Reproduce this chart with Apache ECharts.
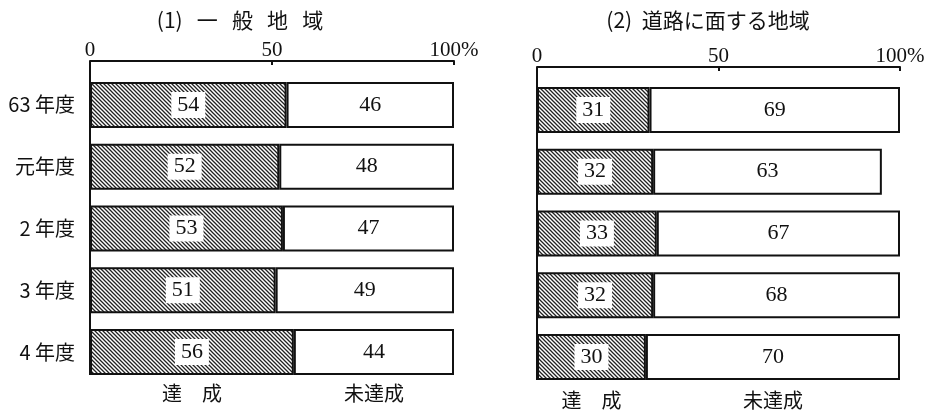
<!DOCTYPE html>
<html>
<head>
<meta charset="utf-8">
<script src="https://cdn.jsdelivr.net/npm/echarts@6/dist/echarts.min.js"></script>
<style>
  html, body { margin: 0; padding: 0; background: #fff; }
  #chart { width: 936px; height: 413px; }
</style>
</head>
<body>
<div id="chart"></div>
<script>
// Fiscal years (rows, top to bottom)
const categories = ['63 年度', '元年度', '2 年度', '3 年度', '4 年度'];
// (1) 一般地域: achieved / not achieved (%)
const generalAchieved = [54, 52, 53, 51, 56];
const generalNotAchieved = [46, 48, 47, 49, 44];
// (2) 道路に面する地域: achieved / not achieved (%)
const roadAchieved = [31, 32, 33, 32, 30];
const roadNotAchieved = [69, 63, 67, 68, 70];
// Panel titles and segment captions
const panelTitles = ['(1)   一   般   地   域', '(2)  道路に面する地域'];
const segmentNames = ['達\u3000成', '未達成'];
// Percentage scale
const axisMin = 0;
const axisMax = 100;
const axisStep = 50;

const CJK = '"Noto Sans CJK JP", "Noto Sans", sans-serif';
const SERIF = '"Liberation Serif", "DejaVu Serif", serif';

// Diagonal hatching used for the "achieved" segments
function hatchCanvas() {
  const s = 4;
  const c = document.createElement('canvas');
  c.width = s; c.height = s;
  const g = c.getContext('2d');
  g.fillStyle = '#ffffff';
  g.fillRect(0, 0, s, s);
  g.strokeStyle = '#222';
  g.lineWidth = 1.3;
  g.beginPath();
  g.moveTo(-1, -1); g.lineTo(s + 1, s + 1);
  g.moveTo(-1, s - 1); g.lineTo(1, s + 1);
  g.moveTo(s - 1, -1); g.lineTo(s + 1, 1);
  g.stroke();
  return c;
}
const hatch = { image: hatchCanvas(), repeat: 'repeat' };

// Panel geometry
const panels = [
  { left: 90, right: 482, top: 74, height: 309, axisOffset: 13 },
  { left: 537, right: 36, top: 79, height: 309, axisOffset: 12 }
];
const BAR_W = 46;

function xAxisFor(i) {
  return {
    type: 'value', gridIndex: i, position: 'top', offset: panels[i].axisOffset,
    min: axisMin, max: axisMax, interval: axisStep,
    axisLine: { show: true, lineStyle: { color: '#111', width: 2 } },
    axisTick: { show: true, inside: true, length: 4, lineStyle: { color: '#111', width: 2 } },
    splitLine: { show: false },
    axisLabel: {
      margin: 0, color: '#111', fontFamily: SERIF, fontSize: 21,
      formatter: v => (v === axisMax ? v + '%' : String(v))
    }
  };
}
function yAxisFor(i, showLabels) {
  return {
    type: 'category', gridIndex: i, data: categories, inverse: true,
    axisLine: { show: false },
    axisTick: { show: false },
    axisLabel: { show: showLabels, margin: 15, color: '#111', fontFamily: CJK, fontSize: 20 }
  };
}
function barSeries(i, name, data, achieved) {
  return {
    type: 'bar', name: name, stack: 'p' + i, xAxisIndex: i, yAxisIndex: i,
    data: data, barWidth: BAR_W,
    itemStyle: { color: achieved ? hatch : '#ffffff', borderColor: '#111', borderWidth: 2 },
    label: {
      show: true, position: 'inside', color: '#111', fontFamily: SERIF, fontSize: 22,
      backgroundColor: achieved ? '#ffffff' : 'transparent', padding: [3, 6, 1, 6]
    },
    silent: true, animation: false
  };
}

const chart = echarts.init(document.getElementById('chart'), null, { renderer: 'canvas' });
chart.setOption({
  animation: false,
  grid: panels.map(p => ({ left: p.left, right: p.right, top: p.top, height: p.height })),
  xAxis: [xAxisFor(0), xAxisFor(1)],
  yAxis: [yAxisFor(0, true), yAxisFor(1, false)],
  series: [
    barSeries(0, '達成', generalAchieved, true),
    barSeries(0, '未達成', generalNotAchieved, false),
    barSeries(1, '達成', roadAchieved, true),
    barSeries(1, '未達成', roadNotAchieved, false)
  ]
});

// Titles, segment captions under the last row, and the left frame line
const last = categories.length - 1;
const graphics = [];
const titleX = [240, 708];
const captionDy = [18, 20];
const achievedSets = [generalAchieved, roadAchieved];
const notSets = [generalNotAchieved, roadNotAchieved];
panels.forEach((p, i) => {
  graphics.push({
    type: 'text', x: titleX[i], y: 20,
    style: { text: panelTitles[i], font: '21px ' + CJK, fill: '#111', textAlign: 'center', textVerticalAlign: 'middle' }
  });
  const a = achievedSets[i][last], n = notSets[i][last];
  const pa = chart.convertToPixel({ gridIndex: i }, [a / 2, categories[last]]);
  const pn = chart.convertToPixel({ gridIndex: i }, [a + n / 2, categories[last]]);
  const barBottom = pa[1] + BAR_W / 2;
  const yCap = barBottom + captionDy[i];
  graphics.push({
    type: 'text', x: pa[0], y: yCap,
    style: { text: segmentNames[0], font: '20px ' + CJK, fill: '#111', textAlign: 'center', textVerticalAlign: 'middle' }
  });
  graphics.push({
    type: 'text', x: pn[0], y: yCap,
    style: { text: segmentNames[1], font: '20px ' + CJK, fill: '#111', textAlign: 'center', textVerticalAlign: 'middle' }
  });
  graphics.push({
    type: 'line',
    shape: { x1: p.left, y1: p.top - p.axisOffset, x2: p.left, y2: barBottom },
    style: { stroke: '#111', lineWidth: 2 }
  });
});
chart.setOption({ graphic: graphics });
</script>
</body>
</html>
